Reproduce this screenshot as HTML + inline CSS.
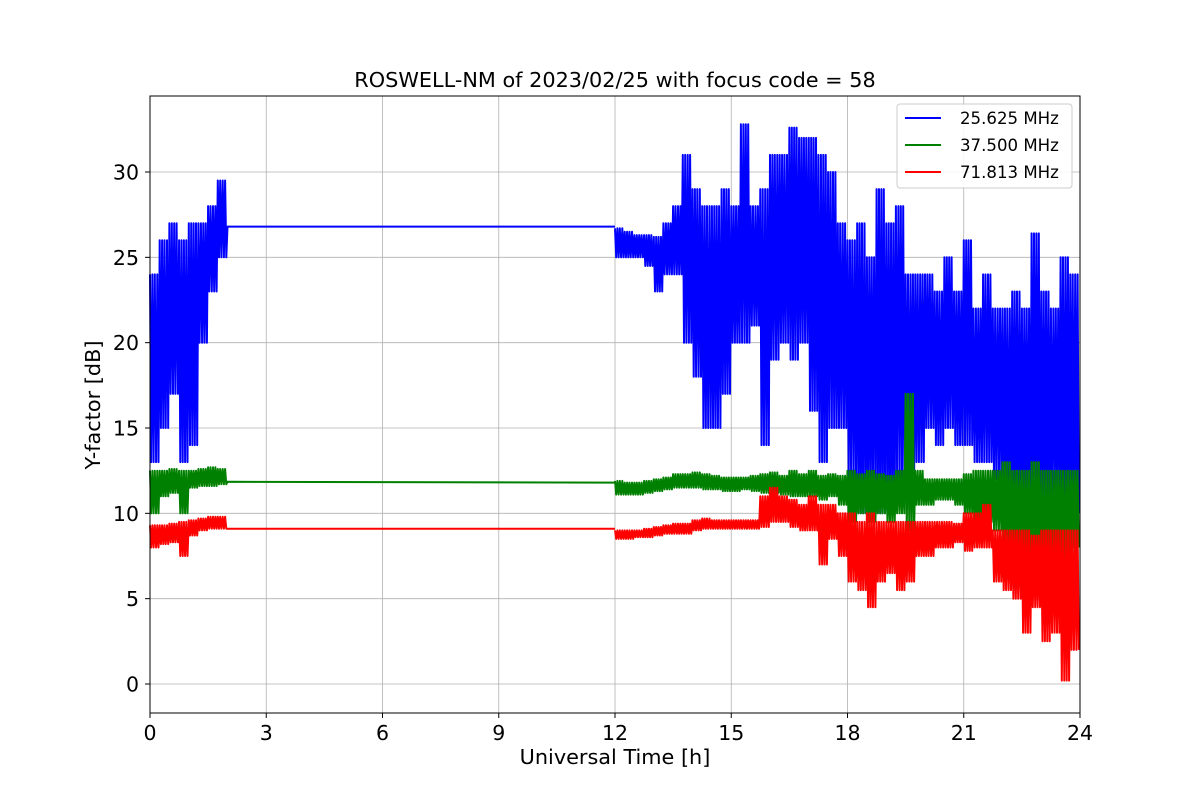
<!DOCTYPE html>
<html><head><meta charset="utf-8"><style>
body{margin:0;background:#fff}
svg text{font-family:"DejaVu Sans","Liberation Sans",sans-serif;fill:#000}
</style></head><body>
<svg id="chart" width="1200" height="800" xmlns="http://www.w3.org/2000/svg">
<rect width="1200" height="800" fill="#fff"/>
<g id="grid"></g>
<g id="series"></g>
<rect x="150" y="96" width="930" height="617" fill="none" stroke="#000" stroke-width="1"/>
<g id="axes"></g>
<text x="615" y="87" font-size="20.8" text-anchor="middle">ROSWELL-NM of 2023/02/25 with focus code = 58</text>
<text x="615" y="764" font-size="20.8" text-anchor="middle">Universal Time [h]</text>
<text x="100" y="405" font-size="20.8" text-anchor="middle" transform="rotate(-90 100 405)">Y-factor [dB]</text>
<g>
<rect x="897" y="104" width="175" height="84" rx="3" fill="#fff" fill-opacity="0.85" stroke="#ccc"/>
<g><line x1="905" x2="941" y1="118" y2="118" stroke="#00f" stroke-width="2"/><text x="960" y="124" font-size="16.6">25.625 MHz</text></g>
<g><line x1="905" x2="941" y1="145" y2="145" stroke="#008000" stroke-width="2"/><text x="960" y="151" font-size="16.6">37.500 MHz</text></g>
<g><line x1="905" x2="941" y1="172" y2="172" stroke="#f00" stroke-width="2"/><text x="960" y="178" font-size="16.6">71.813 MHz</text></g>
</g>
</svg>
<script>
const xTicks=[0,3,6,9,12,15,18,21,24];
const yTicks=[0,5,10,15,20,25,30];
// bins: [time, low, high]
const blueBins=[[0,13,24],[0.25,15,26],[0.5,17,27],[0.75,13,26],[1,14,27],[1.25,20,27],[1.5,23,28],[1.75,25,29.5],
[12,25,26.7],[12.25,25,26.5],[12.5,25,26.3],[12.75,24.5,26.3],[13,23,26.2],[13.25,24,27],[13.5,24,28],[13.75,20,31],[14,18,29],[14.25,15,28],[14.5,15,28],[14.75,17,29],[15,20,28],[15.25,20,32.8],[15.5,21,28],[15.75,14,29],[16,19,31],[16.25,20,31],[16.5,19,32.6],[16.75,20,32],[17,16,32],[17.25,13,31],[17.5,15,30],[17.75,15,27],[18,12,26],[18.25,10,27],[18.5,11,25],[18.75,10,29],[19,10,27],[19.25,12,28],[19.5,12,24],[19.75,13,24],[20,15,24],[20.25,14,23],[20.5,15,25],[20.75,14,23],[21,14,26],[21.25,13,22],[21.5,13,24],[21.75,12,22],[22,10,22],[22.25,10,23],[22.5,9,22],[22.75,10,26.4],[23,9,23],[23.25,11,22],[23.5,8,25],[23.75,10,24]];
const blueFlat=[[2,26.8],[12,26.8]];
const greenBins=[[0,10,12.5],[0.25,11,12.5],[0.5,11.2,12.6],[0.75,10,12.5],[1,11.5,12.5],[1.25,11.6,12.6],[1.5,11.6,12.7],[1.75,11.7,12.6],
[12,11.1,11.9],[12.25,11.1,11.8],[12.5,11.1,11.8],[12.75,11.2,11.9],[13,11.3,12],[13.25,11.4,12.1],[13.5,11.5,12.3],[13.75,11.5,12.3],[14,11.5,12.4],[14.25,11.4,12.3],[14.5,11.4,12.2],[14.75,11.3,12.1],[15,11.3,12.1],[15.25,11.4,12.1],[15.5,11.3,12.2],[15.75,11.2,12.3],[16,11.2,12.4],[16.25,11.1,12.2],[16.5,11,12.5],[16.75,11,12.3],[17,11,12.5],[17.25,10.8,12.2],[17.5,11,12.3],[17.75,10.5,12.2],[18,9.5,12.5],[18.25,10,12.3],[18.5,9.5,12.5],[18.75,10,12.3],[19,9.5,12.2],[19.25,10,12.5],[19.5,9,17],[19.75,10.5,12.5],[20,10.5,12],[20.25,10.8,12],[20.5,10.8,12],[20.75,10.5,12],[21,10,12.3],[21.25,9.5,12.5],[21.5,9.5,12.5],[21.75,9,12.5],[22,7,13],[22.25,7,12.5],[22.5,6,12.5],[22.75,6,13],[23,3.5,12.5],[23.25,6,12.5],[23.5,5,12.5],[23.75,8,12.5]];
const greenFlat=[[2,11.85],[12,11.8]];
const redBins=[[0,8,9.3],[0.25,8.2,9.3],[0.5,8.3,9.4],[0.75,7.5,9.5],[1,8.7,9.6],[1.25,9,9.7],[1.5,9.1,9.8],[1.75,9.1,9.8],
[12,8.5,9],[12.25,8.5,9],[12.5,8.6,9],[12.75,8.6,9.1],[13,8.7,9.2],[13.25,8.8,9.3],[13.5,8.8,9.4],[13.75,8.8,9.4],[14,9,9.6],[14.25,9.1,9.7],[14.5,9.1,9.6],[14.75,9.1,9.6],[15,9.1,9.6],[15.25,9.1,9.6],[15.5,9.1,9.6],[15.75,9.2,11],[16,9.5,11.5],[16.25,9.5,11],[16.5,9.2,10.8],[16.75,9,10.5],[17,9,11],[17.25,7,10.5],[17.5,8.5,10.5],[17.75,7.5,10],[18,6,10],[18.25,5.5,9.5],[18.5,4.5,10],[18.75,6,9.5],[19,6.5,9.5],[19.25,5.5,9.5],[19.5,6,9.5],[19.75,7.5,9.5],[20,7.5,9.5],[20.25,8,9.5],[20.5,8,9.5],[20.75,8.3,9.4],[21,7.8,10],[21.25,8,10],[21.5,8,10.5],[21.75,6,9],[22,5.5,9],[22.25,5,9],[22.5,3,9],[22.75,4.5,8.7],[23,2.5,9],[23.25,3,9],[23.5,0.2,9],[23.75,2,9]];
const redFlat=[[2,9.1],[12,9.1]];

const X=t=>150+t*930/24;
const Y=v=>684-v*(684-172)/30;
const NS="http://www.w3.org/2000/svg";
const grid=document.getElementById('grid'),axes=document.getElementById('axes'),ser=document.getElementById('series');
xTicks.forEach(t=>{
 const l=document.createElementNS(NS,'line');l.setAttribute('x1',X(t));l.setAttribute('x2',X(t));l.setAttribute('y1',96);l.setAttribute('y2',713);l.setAttribute('stroke','#b0b0b0');l.setAttribute('stroke-width','0.8');
 
 
 grid.appendChild(l);
 const tk=document.createElementNS(NS,'line');tk.setAttribute('x1',X(t));tk.setAttribute('x2',X(t));tk.setAttribute('y1',713);tk.setAttribute('y2',718);tk.setAttribute('stroke','#000');axes.appendChild(tk);
 const tx=document.createElementNS(NS,'text');tx.setAttribute('x',X(t));tx.setAttribute('y',740);tx.setAttribute('font-size','20.5');tx.setAttribute('text-anchor','middle');tx.textContent=t;
 
 
 axes.appendChild(tx);
});
yTicks.forEach(v=>{
 const l=document.createElementNS(NS,'line');l.setAttribute('x1',150);l.setAttribute('x2',1080);l.setAttribute('y1',Y(v));l.setAttribute('y2',Y(v));l.setAttribute('stroke','#b0b0b0');l.setAttribute('stroke-width','0.8');
 
 
 grid.appendChild(l);
 const tk=document.createElementNS(NS,'line');tk.setAttribute('x1',145);tk.setAttribute('x2',150);tk.setAttribute('y1',Y(v));tk.setAttribute('y2',Y(v));tk.setAttribute('stroke','#000');axes.appendChild(tk);
 const tx=document.createElementNS(NS,'text');tx.setAttribute('x',139);tx.setAttribute('y',Y(v)+7.5);tx.setAttribute('font-size','20.5');tx.setAttribute('text-anchor','end');tx.textContent=v;
 
 
 axes.appendChild(tx);
});
function draw(bins,flat,color,name){
 let pts=[];
 const segs=[];
 bins.forEach((b,i)=>{
  const next=bins[i+1];
  const w=(next&&next[0]-b[0]<=0.26)?next[0]-b[0]:0.25;
  const n=8;
  for(let k=0;k<n;k++){
   const t=b[0]+w*k/n;
   const v=(k%2===0)?b[2]:b[1];
   pts.push(X(t).toFixed(1)+','+Y(v).toFixed(1));
  }
  if(!next||next[0]-b[0]>0.26){segs.push(pts);pts=[];}
 });
 const g=document.createElementNS(NS,'g');
 
 
 segs.forEach((p,i)=>{
  if(i===0){p.push(X(flat[0][0]).toFixed(1)+','+Y(flat[0][1]).toFixed(1));p.push(X(flat[1][0]).toFixed(1)+','+Y(flat[1][1]).toFixed(1));}
  const pl=document.createElementNS(NS,'polyline');
  pl.setAttribute('points',p.join(' '));pl.setAttribute('fill','none');pl.setAttribute('stroke',color);pl.setAttribute('stroke-width','2');pl.setAttribute('stroke-linejoin','round');
  
  
  g.appendChild(pl);
 });
 ser.appendChild(g);
}
draw(blueBins,blueFlat,'#0000ff','series-25mhz');
draw(greenBins,greenFlat,'#008000','series-37mhz');
draw(redBins,redFlat,'#ff0000','series-71mhz');
</script>
</body></html>
